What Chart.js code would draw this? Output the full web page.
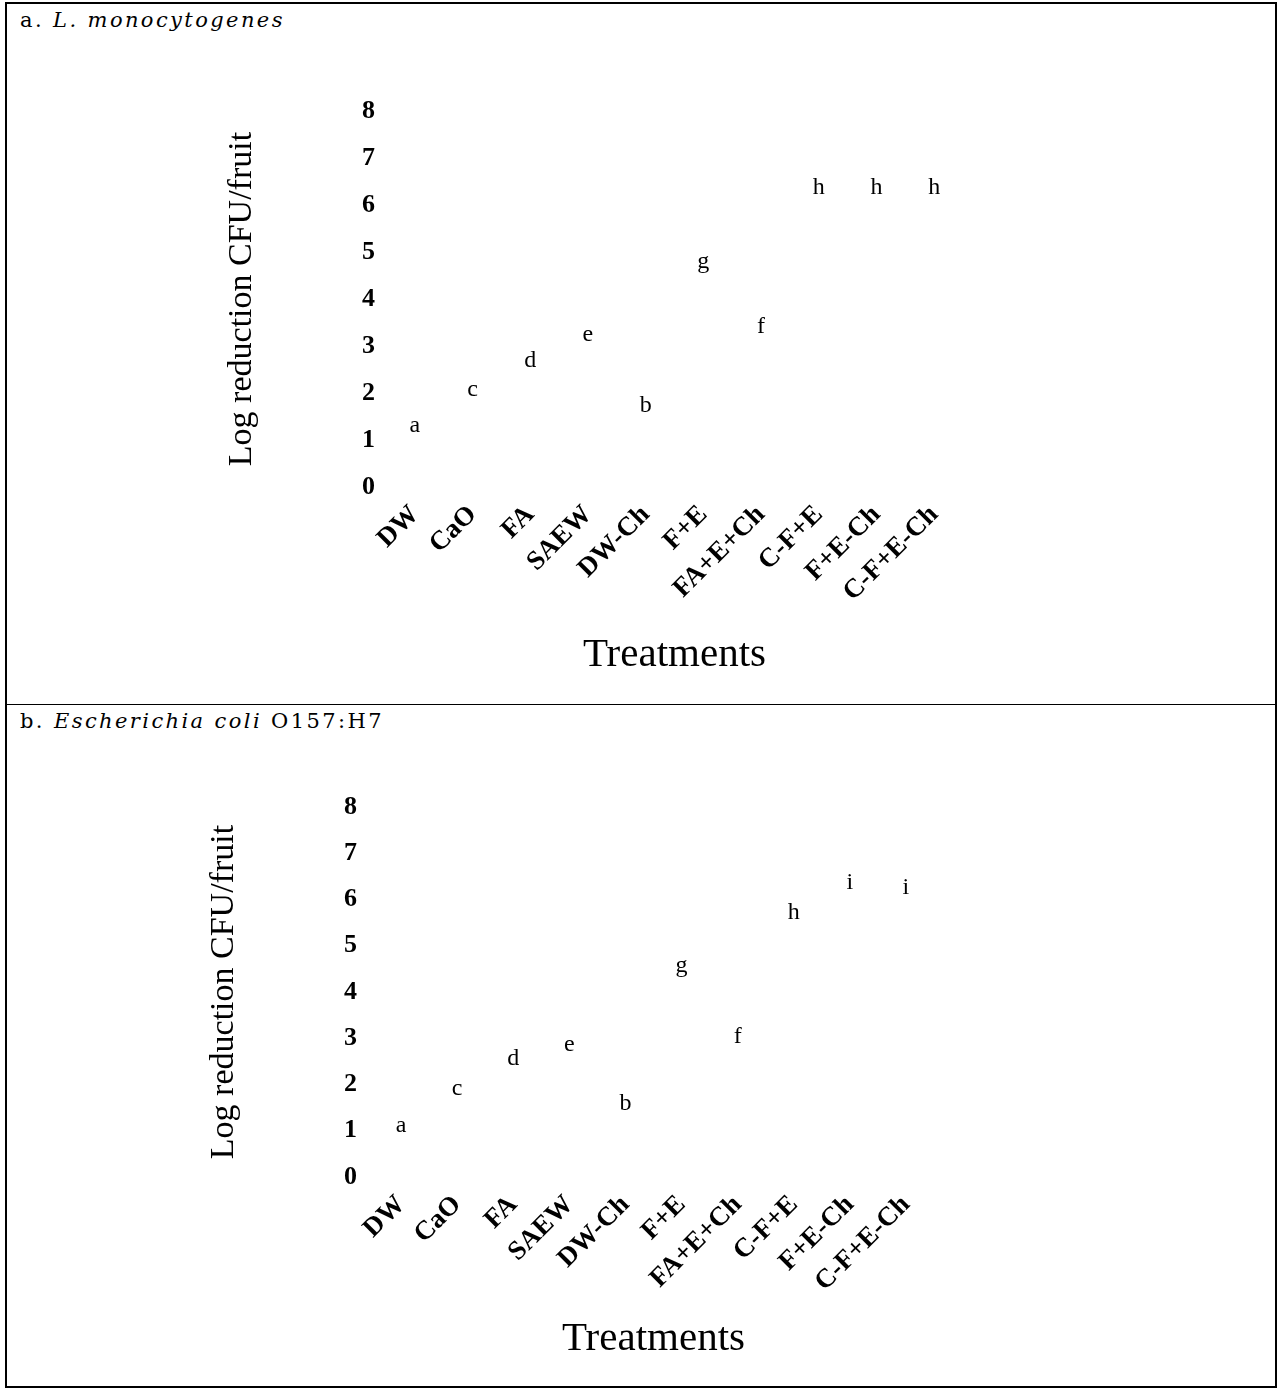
<!DOCTYPE html>
<html>
<head>
<meta charset="utf-8">
<script src="https://cdn.jsdelivr.net/npm/chart.js@4"></script>
<style>
  html, body { margin: 0; padding: 0; background: #fff; }
  body { width: 1278px; height: 1392px; position: relative; overflow: hidden; }
  .frame { position: absolute; left: 5px; top: 2px; width: 1272px; height: 1386px;
           box-sizing: border-box; border: 2px solid #000; }
  .divider { position: absolute; left: 5px; top: 704px; width: 1272px; height: 1px; background: #000; }
  .head { position: absolute; left: 20px; font-family: "DejaVu Serif", "Liberation Serif", serif;
          font-size: 21px; color: #000; letter-spacing: 2.4px; white-space: nowrap; }
  .head i { font-style: italic; }
  .panel { position: absolute; left: 200px; width: 800px; height: 600px; }
</style>
</head>
<body>
<div class="frame"></div>
<div class="divider"></div>
<div class="head" style="top:8px">a. <i>L. monocytogenes</i></div>
<div class="head" style="top:709px">b. <i>Escherichia coli</i> O157:H7</div>
<div class="panel" style="top:80px"><canvas id="chartA" width="800" height="600"></canvas></div>
<div class="panel" style="top:770px"><canvas id="chartB" width="800" height="600"></canvas></div>
<script>
// Treatments on the x axis
const treatments = ['DW', 'CaO', 'FA', 'SAEW', 'DW-Ch', 'F+E', 'FA+E+Ch', 'C-F+E', 'F+E-Ch', 'C-F+E-Ch'];

// Mean log reduction (CFU/fruit) per treatment
const listeriaReduction = [1.06, 1.82, 2.45, 3.01, 1.50, 4.55, 3.17, 6.13, 6.13, 6.13];
const ecoliReduction    = [0.86, 1.66, 2.31, 2.62, 1.33, 4.32, 2.78, 5.48, 6.11, 6.02];

// Significance groups printed above each treatment
const listeriaGroups = ['a', 'c', 'd', 'e', 'b', 'g', 'f', 'h', 'h', 'h'];
const ecoliGroups    = ['a', 'c', 'd', 'e', 'b', 'g', 'f', 'h', 'i', 'i'];

// Y axis range and step
const yMin = 0;
const yMax = 8;
const yStep = 1;

const SERIF = '"Liberation Serif", "Times New Roman", serif';

// Writes the group letter just above each bar
const groupLetters = {
  id: 'groupLetters',
  afterDatasetsDraw(chart) {
    const ctx = chart.ctx;
    const groups = chart.options.plugins.groupLetters.groups;
    const meta = chart.getDatasetMeta(0);
    ctx.save();
    ctx.font = '24px ' + SERIF;
    ctx.fillStyle = '#000';
    ctx.textAlign = 'center';
    ctx.textBaseline = 'alphabetic';
    meta.data.forEach((bar, i) => {
      ctx.fillText(groups[i], bar.x, bar.y - 5);
    });
    ctx.restore();
  }
};

function makeChart(id, values, groups, geom) {
  return new Chart(document.getElementById(id), {
    type: 'bar',
    data: {
      labels: treatments,
      datasets: [{
        data: values,
        backgroundColor: 'rgba(0,0,0,0)',
        borderWidth: 0,
        categoryPercentage: 0.8,
        barPercentage: 0.9
      }]
    },
    options: {
      responsive: false,
      animation: false,
      events: [],
      layout: { padding: { top: geom.top, right: geom.right, bottom: 0, left: 0 } },
      plugins: {
        legend: { display: false },
        tooltip: { enabled: false },
        groupLetters: { groups: groups }
      },
      scales: {
        x: {
          grid: { display: false, drawTicks: false },
          border: { display: false },
          ticks: {
            color: '#000',
            font: { family: SERIF, size: 27, weight: 'bold' },
            minRotation: 45,
            maxRotation: 45,
            padding: geom.xTickPad,
            autoSkip: false
          },
          title: {
            display: true,
            text: 'Treatments',
            color: '#000',
            font: { family: SERIF, size: 41 },
            padding: { top: 0, bottom: geom.xTitlePad }
          },
          afterFit(scale) { scale.height = geom.xHeight; }
        },
        y: {
          min: yMin,
          max: yMax,
          grid: { display: false, drawTicks: false },
          border: { display: false },
          ticks: {
            stepSize: yStep,
            color: '#000',
            font: { family: SERIF, size: 26, weight: 'bold' },
            padding: geom.yTickPad
          },
          title: {
            display: true,
            text: 'Log reduction CFU/fruit',
            color: '#000',
            font: { family: SERIF, size: 34 },
            padding: { top: geom.yTitlePad, bottom: 0 }
          },
          afterFit(scale) { scale.width = geom.yWidth; }
        }
      }
    },
    plugins: [groupLetters]
  });
}

makeChart('chartA', listeriaReduction, listeriaGroups,
  { top: 31, right: 37, yWidth: 186, xHeight: 193, xTickPad: 12, xTitlePad: 0, yTickPad: 11, yTitlePad: 22 });
makeChart('chartB', ecoliReduction, ecoliGroups,
  { top: 37, right: 66, yWidth: 173, xHeight: 193, xTickPad: 12, xTitlePad: 6, yTickPad: 16, yTitlePad: 4 });
</script>
</body>
</html>
